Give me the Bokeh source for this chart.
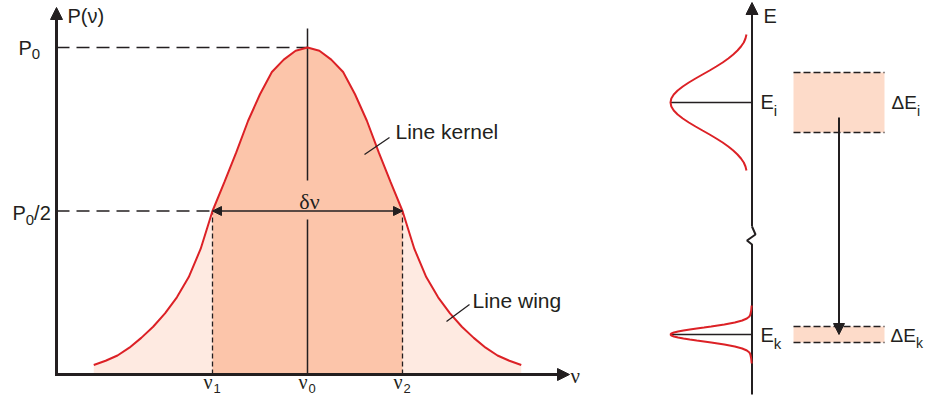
from bokeh.plotting import figure
from bokeh.layouts import row
from bokeh.models import Range1d, Label, Arrow, NormalHead
from bokeh.embed import file_html
from bokeh.resources import INLINE

# ---------------- data ----------------
# line profile P(nu) in units of P0, nu in units of delta_nu/2
nu = [2.75, 2.875, 3.0, 3.125, 3.25, 3.375, 3.5, 3.625, 3.75, 3.875,
      4.0, 4.125, 4.25, 4.375, 4.5, 4.625, 4.75, 4.875, 5.0,
      5.125, 5.25, 5.375, 5.5, 5.625, 5.75, 5.875, 6.0,
      6.125, 6.25, 6.375, 6.5, 6.625, 6.75, 6.875, 7.0, 7.125, 7.25]
P = [0.029, 0.042, 0.058, 0.082, 0.112, 0.146, 0.187, 0.236, 0.298, 0.384,
     0.500, 0.588, 0.679, 0.776, 0.857, 0.925, 0.963, 0.990, 1.000,
     0.990, 0.963, 0.925, 0.857, 0.776, 0.679, 0.588, 0.500,
     0.384, 0.298, 0.236, 0.187, 0.146, 0.112, 0.082, 0.058, 0.042, 0.029]
nu0, nu1, nu2 = 5.0, 4.0, 6.0
P0, P_half = 1.0, 0.5
tick_nu = [nu1, nu0, nu2]
tick_sub = ["1", "0", "2"]

# energy levels (arbitrary energy units)
E_i, E_k = 14.6, 3.0
dE_i, dE_k = 3.0, 0.8
# upper level profile, offsets from E_i and relative intensity
up_offset = [-3.4, -3.2, -3.0, -2.8, -2.6, -2.4, -2.2, -2.0, -1.8, -1.6, -1.4, -1.2,
             -1.0, -0.8, -0.6, -0.4, -0.2, 0.0, 0.2, 0.4, 0.6, 0.8, 1.0, 1.2, 1.4,
             1.6, 1.8, 2.0, 2.2, 2.4, 2.6, 2.8, 3.0, 3.2, 3.4]
up_g = [0.068, 0.080, 0.101, 0.135, 0.178, 0.230, 0.291, 0.360, 0.438, 0.520, 0.607, 0.693,
        0.775, 0.849, 0.912, 0.960, 0.990, 1.000, 0.990, 0.960, 0.912, 0.849, 0.775, 0.693,
        0.607, 0.520, 0.438, 0.360, 0.291, 0.230, 0.178, 0.135, 0.101, 0.080, 0.068]
# lower level profile (narrow), offsets from E_k and relative intensity
low_offset = [-1.45, -1.2, -1.0, -0.9, -0.8, -0.7, -0.6, -0.5, -0.4, -0.35, -0.3, -0.25,
              -0.2, -0.15, -0.1, -0.05, 0.0, 0.05, 0.1, 0.15, 0.2, 0.25, 0.3, 0.35, 0.4,
              0.5, 0.6, 0.7, 0.8, 0.9, 1.0, 1.2, 1.45]
low_g = [0.004, 0.010, 0.020, 0.032, 0.063, 0.120, 0.211, 0.339, 0.501, 0.589, 0.678, 0.763,
         0.841, 0.907, 0.958, 0.989, 1.000, 0.989, 0.958, 0.907, 0.841, 0.763, 0.678, 0.589,
         0.501, 0.339, 0.211, 0.120, 0.063, 0.032, 0.020, 0.010, 0.004]

# ---------------- styling / layout ----------------
RED = "#dc2126"
INK = "#231f20"
LIGHT = "#feeae1"
DARK = "#fcc5aa"
BOX = "#fddbc9"
SANS = "Liberation Sans"
SERIF = "Liberation Serif"

W1, W2, H = 632, 293, 396
DY = 6  # vertical shift of the drawing so that it fits the frame

# left panel helpers (reference-pixel positions -> data units)
NU_PX, NU0_PX = 95.0, 307.0
P_PX, BASE_PY = 327.0, 380.0
def lx(px):
    return nu0 + (px - NU0_PX) / NU_PX
def ly(py):
    return (BASE_PY - py) / P_PX

def make_fig(w, xr, yr):
    f = figure(width=w, height=H, x_range=xr, y_range=yr, output_backend="svg",
               toolbar_location=None, x_axis_location=None, y_axis_location=None,
               min_border=0, outline_line_color=None,
               background_fill_color="white", border_fill_color="white")
    f.grid.visible = False
    return f

def lab(f, x, y, text, size=20, font=SANS, align="left"):
    f.add_layout(Label(x=x, y=y, text=text, text_font=font, text_font_size=f"{size}px",
                       text_color=INK, text_align=align, text_baseline="alphabetic",
                       y_offset=round(0.27 * size, 1)))

def head(size):
    return NormalHead(size=size, fill_color=INK, line_color=INK)

left = make_fig(W1, Range1d(lx(0), lx(W1)), Range1d(ly(H + DY), ly(DY)))

# fills
left.varea(x=nu, y1=0, y2=P, fill_color=LIGHT)
core = [(n, p) for n, p in zip(nu, P) if nu1 <= n <= nu2]
left.varea(x=[c[0] for c in core], y1=0, y2=[c[1] for c in core], fill_color=DARK)

y_axis_nu = lx(56)

# dashed guides
left.line([y_axis_nu, nu0], [P0, P0], line_color=INK, line_width=1.5, line_dash="13 7")
left.line([y_axis_nu, nu1], [P_half, P_half], line_color=INK, line_width=1.5, line_dash="13 7")
for n in (nu1, nu2):
    left.line([n, n], [0, P_half], line_color=INK, line_width=1.3, line_dash="5 3")

# centre line with a gap for the label
left.line([nu0, nu0], [ly(34), ly(186)], line_color=INK, line_width=1.5)
left.line([nu0, nu0], [ly(225), 0], line_color=INK, line_width=1.5)

# profile
left.line(nu, P, line_color=RED, line_width=2)

# delta-nu arrow
left.add_layout(Arrow(start=head(9), end=head(9),
                      x_start=nu1, y_start=P_half, x_end=nu2, y_end=P_half,
                      line_color=INK, line_width=1.5))

# axes
left.add_layout(Arrow(end=head(12), x_start=y_axis_nu, y_start=ly(BASE_PY + 1.5),
                      x_end=y_axis_nu, y_end=ly(13), line_color=INK, line_width=3))
left.add_layout(Arrow(end=head(12), x_start=lx(54.5), y_start=0, x_end=lx(569), y_end=0,
                      line_color=INK, line_width=3))

# leader lines
left.line([lx(364), lx(389)], [ly(160), ly(143)], line_color=INK, line_width=1.3)
left.line([lx(446), lx(469)], [ly(327), ly(310)], line_color=INK, line_width=1.3)

# texts
lab(left, lx(67), ly(27), "P(ν)")
lab(left, lx(18), ly(59), "P")
lab(left, lx(31.3), ly(64), "0", size=15)
lab(left, lx(12), ly(224), "P")
lab(left, lx(25.3), ly(229.5), "0", size=15)
lab(left, lx(33.6), ly(224), "/2")
lab(left, lx(570), ly(387), "ν", size=21, font=SERIF)
for n, s in zip(tick_nu, tick_sub):
    px = NU0_PX + (n - nu0) * NU_PX
    lab(left, lx(px - 9), ly(393), "ν", size=20, font=SERIF)
    lab(left, lx(px + 1), ly(397), s, size=13)
lab(left, lx(309), ly(213), "δν", size=22, font=SERIF, align="center")
lab(left, lx(395), ly(143), "Line kernel", size=21)
lab(left, lx(472), ly(312), "Line wing", size=21)

# ---------------- right panel ----------------
DX = 10  # horizontal shift of the right panel
AX_X, DEPTH = 761.5, 81.5
E_PX, E0_PY = 20.0, 400.0
def ry(py):
    return (E0_PY - py) / E_PX

right = make_fig(W2, Range1d(W1 + DX, W1 + W2 + DX), Range1d(ry(H + DY), ry(DY)))

# level boxes
for Ec, dE in ((E_i, dE_i), (E_k, dE_k)):
    right.quad(left=803, right=894, bottom=Ec - dE / 2, top=Ec + dE / 2,
               fill_color=BOX, line_color=None)
    for yy in (Ec - dE / 2, Ec + dE / 2):
        right.line([803, 894], [yy, yy], line_color=INK, line_width=1.4, line_dash="7 3")

# energy axis with break
right.line([AX_X, AX_X, AX_X - 5, AX_X + 3.5, AX_X],
           [ry(400), ry(250), ry(246), ry(240), ry(232)], line_color=INK, line_width=2)
right.add_layout(Arrow(end=head(12), x_start=AX_X, y_start=ry(232), x_end=AX_X, y_end=ry(8),
                       line_color=INK, line_width=2))

# level lines and profiles
for Ec in (E_i, E_k):
    right.line([AX_X - DEPTH, AX_X], [Ec, Ec], line_color=INK, line_width=1.5)
right.line([AX_X - DEPTH * g for g in up_g], [E_i + o for o in up_offset],
           line_color=RED, line_width=2)
right.line([AX_X - DEPTH * g for g in low_g], [E_k + o for o in low_offset],
           line_color=RED, line_width=2)

# transition arrow
right.add_layout(Arrow(end=head(11), x_start=848.5, y_start=ry(123), x_end=848.5, y_end=E_k,
                       line_color=INK, line_width=2))

# texts
lab(right, 773, ry(27), "E")
lab(right, 770, ry(113), "E")
lab(right, 783.3, ry(120), "i", size=15)
lab(right, 770, ry(346), "E")
lab(right, 783.3, ry(352.7), "k", size=15)
lab(right, 901, ry(113.3), "ΔE", size=19)
lab(right, 926.4, ry(120), "i", size=14)
lab(right, 900, ry(346.5), "ΔE", size=19)
lab(right, 925.4, ry(352.7), "k", size=14)

layout = row(left, right)
open("out.html", "w").write(file_html(layout, INLINE))
